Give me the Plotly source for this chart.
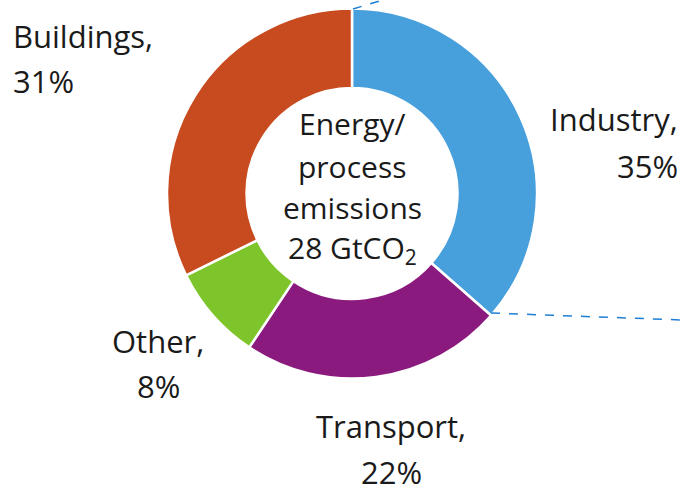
import plotly.graph_objects as go

W, H = 682, 488

sectors = ["Industry", "Transport", "Other", "Buildings"]
shares = [35, 22, 8, 31]
colors = ["#479fdc", "#8b1a7e", "#7dc52a", "#c84b20"]

center_lines = ["Energy/", "process", "emissions", "28 GtCO<sub>2</sub>"]

# pie geometry (pixels)
cx, cy, R = 352, 193.5, 185

def px(x):
    return x / W

def py(y):
    return 1 - y / H

fig = go.Figure(go.Pie(
    labels=sectors, values=shares, sort=False, direction="clockwise", rotation=0,
    hole=0.57, textinfo="none", hoverinfo="label+value",
    marker=dict(colors=colors, line=dict(color="white", width=2.5)),
    domain=dict(x=[px(cx - R), px(cx + R)], y=[py(cy + R), py(cy - R)]),
    showlegend=False,
))

FONT = "Open Sans, Lato, sans-serif"
anns = []

def line(text, x, baseline, size, xanchor):
    anns.append(dict(text=text, x=px(x), y=py(baseline - 0.4 * size), xref="paper", yref="paper",
                     xanchor=xanchor, yanchor="middle", showarrow=False,
                     font=dict(family=FONT, size=size, color="#1a1a1a")))

# center
for t, b in zip(center_lines, [135, 177, 218, 260]):
    line(t, cx, b + 1, 30, "center")

# labels: (sector index, x, anchor, baseline1, baseline2)
label_pos = [
    (0, 680, "right", 131, 178),
    (1, 391, "center", 438, 484),
    (2, 158, "center", 353, 398),
    (3, 11, "left", 48, 93),
]
for i, x, anc, b1, b2 in label_pos:
    line(sectors[i] + ",", x, b1, 31, anc)
    line(f"{shares[i]}%", x, b2, 31, anc)

shapes = [
    dict(type="line", xref="paper", yref="paper", x0=px(353), y0=py(9), x1=px(386), y1=py(-1),
         line=dict(color="#1f7fd6", width=1.5, dash="dash")),
    dict(type="line", xref="paper", yref="paper", x0=px(491), y0=py(313), x1=px(682), y1=py(320),
         line=dict(color="#1f7fd6", width=1.5, dash="dash")),
]

fig.update_layout(width=W, height=H, margin=dict(l=0, r=0, t=0, b=0),
                  paper_bgcolor="white", plot_bgcolor="white",
                  annotations=anns, shapes=shapes)

fig.write_html("out.html")
